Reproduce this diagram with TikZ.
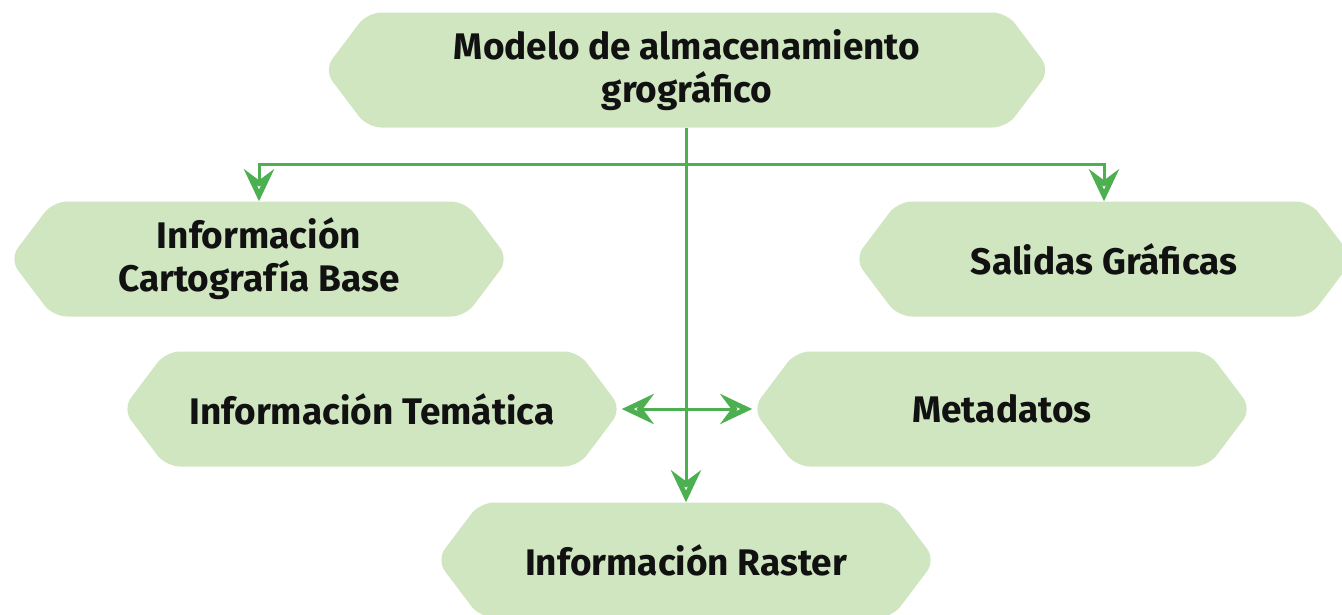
\documentclass[tikz,border=0pt]{standalone}
\usepackage{fontspec}
\setmainfont{Fira Sans}
\usepackage{xcolor}
\usepackage{tikz}
\usetikzlibrary{positioning,arrows.meta,shapes.symbols}
\definecolor{BoxGreen}{HTML}{CFE6C0}
\definecolor{LineGreen}{HTML}{4CAF50}
\definecolor{TextDark}{HTML}{111111}

\begin{document}
\begin{tikzpicture}[x=1pt,y=-1pt,
    every node/.style={font=\bfseries\fontsize{37}{43}\selectfont, text=TextDark},
    hexbox/.style={signal, signal to=west and east, signal pointer angle=106,
                   fill=BoxGreen, rounded corners=14pt, minimum width=499pt,
                   minimum height=115pt, inner sep=0pt, align=center},
    >={Stealth[open,length=32pt,width=30pt,inset=11pt,line width=5pt]},
    ar/.style={->,LineGreen,line width=3pt}]
  \useasboundingbox (0,0) rectangle (1342,614);
  \node[hexbox, minimum width=726pt] (modelo) at (687,70)
    {Modelo de almacenamiento\\grográfico};
  \node[hexbox] (base) at (259,259) {Información\\Cartografía Base};
  \node[hexbox] (salidas) at (1104,259) {Salidas Gráficas};
  \node[hexbox] (tematica) at (372,409) {Información Temática};
  \node[hexbox] (metadatos) at (1002,409) {Metadatos};
  \node[hexbox] (raster) at (686,560) {Información Raster};
  \coordinate (split) at (686,164);
  \draw[ar] (modelo.south -| split) -- (raster.north -| split);
  \draw[ar] (split) -| (base.north);
  \draw[ar] (split) -| (salidas.north);
  \draw[ar, <->] (tematica.east) -- (metadatos.west);
\end{tikzpicture}
\end{document}
